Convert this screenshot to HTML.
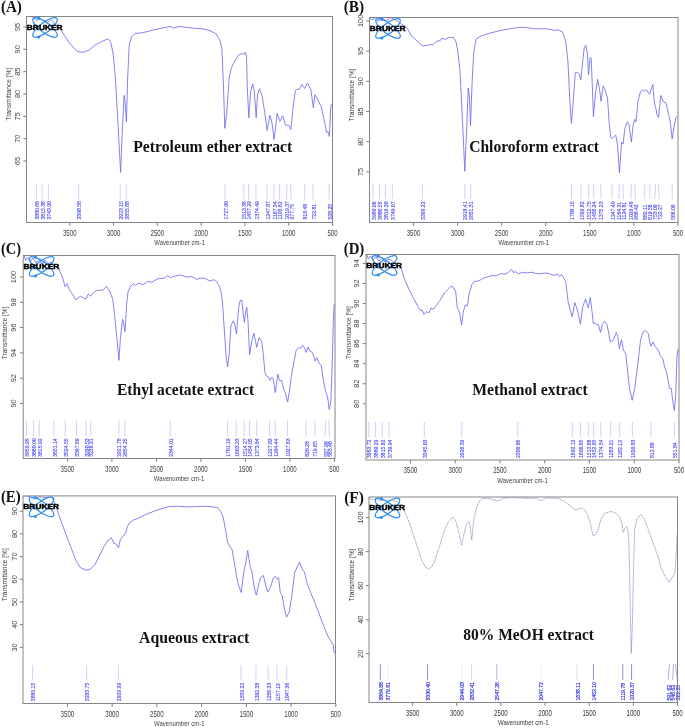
<!DOCTYPE html><html><head><meta charset="utf-8"><style>html,body{margin:0;padding:0;background:#fff;}svg{display:block;will-change:transform;}text{font-family:"Liberation Sans",sans-serif;}.serif{font-family:"Liberation Serif",serif;font-weight:bold;}</style></head><body>
<svg width="685" height="728" viewBox="0 0 685 728">
<rect width="685" height="728" fill="#fff"/>
<g><clipPath id="cp0"><rect x="26.5" y="16.5" width="306" height="206"/></clipPath><line x1="36.42" y1="184" x2="36.42" y2="199.5" stroke="#c0c0fc" stroke-width="0.75"/><text transform="translate(39.02,219.5) rotate(-90)" font-size="5.1" fill="#4848f0" stroke="#4848f0" stroke-width="0.12">3880.68</text><line x1="42.14" y1="184" x2="42.14" y2="199.5" stroke="#c0c0fc" stroke-width="0.75"/><text transform="translate(44.74,219.5) rotate(-90)" font-size="5.1" fill="#4848f0" stroke="#4848f0" stroke-width="0.12">3815.38</text><line x1="48.4" y1="184" x2="48.4" y2="199.5" stroke="#c0c0fc" stroke-width="0.75"/><text transform="translate(51,219.5) rotate(-90)" font-size="5.1" fill="#4848f0" stroke="#4848f0" stroke-width="0.12">3743.90</text><line x1="78.64" y1="184" x2="78.64" y2="199.5" stroke="#c0c0fc" stroke-width="0.75"/><text transform="translate(81.24,219.5) rotate(-90)" font-size="5.1" fill="#4848f0" stroke="#4848f0" stroke-width="0.12">3398.56</text><line x1="120.28" y1="184" x2="120.28" y2="199.5" stroke="#c0c0fc" stroke-width="0.75"/><text transform="translate(122.88,219.5) rotate(-90)" font-size="5.1" fill="#4848f0" stroke="#4848f0" stroke-width="0.12">2923.15</text><line x1="126.19" y1="184" x2="126.19" y2="199.5" stroke="#c0c0fc" stroke-width="0.75"/><text transform="translate(128.79,219.5) rotate(-90)" font-size="5.1" fill="#4848f0" stroke="#4848f0" stroke-width="0.12">2855.68</text><line x1="224.96" y1="184" x2="224.96" y2="199.5" stroke="#c0c0fc" stroke-width="0.75"/><text transform="translate(227.56,219.5) rotate(-90)" font-size="5.1" fill="#4848f0" stroke="#4848f0" stroke-width="0.12">1727.90</text><line x1="243.75" y1="184" x2="243.75" y2="199.5" stroke="#c0c0fc" stroke-width="0.75"/><text transform="translate(246.35,219.5) rotate(-90)" font-size="5.1" fill="#4848f0" stroke="#4848f0" stroke-width="0.12">1513.36</text><line x1="248.66" y1="184" x2="248.66" y2="199.5" stroke="#c0c0fc" stroke-width="0.75"/><text transform="translate(251.26,219.5) rotate(-90)" font-size="5.1" fill="#4848f0" stroke="#4848f0" stroke-width="0.12">1457.29</text><line x1="255.91" y1="184" x2="255.91" y2="199.5" stroke="#c0c0fc" stroke-width="0.75"/><text transform="translate(258.51,219.5) rotate(-90)" font-size="5.1" fill="#4848f0" stroke="#4848f0" stroke-width="0.12">1374.49</text><line x1="267" y1="184" x2="267" y2="199.5" stroke="#c0c0fc" stroke-width="0.75"/><text transform="translate(269.6,219.5) rotate(-90)" font-size="5.1" fill="#4848f0" stroke="#4848f0" stroke-width="0.12">1247.87</text><line x1="274.05" y1="184" x2="274.05" y2="199.5" stroke="#c0c0fc" stroke-width="0.75"/><text transform="translate(276.65,219.5) rotate(-90)" font-size="5.1" fill="#4848f0" stroke="#4848f0" stroke-width="0.12">1167.34</text><line x1="279.62" y1="184" x2="279.62" y2="199.5" stroke="#c0c0fc" stroke-width="0.75"/><text transform="translate(282.22,219.5) rotate(-90)" font-size="5.1" fill="#4848f0" stroke="#4848f0" stroke-width="0.12">1103.82</text><line x1="287.01" y1="184" x2="286.54" y2="199.5" stroke="#c0c0fc" stroke-width="0.75"/><text transform="translate(289.14,219.5) rotate(-90)" font-size="5.1" fill="#4848f0" stroke="#4848f0" stroke-width="0.12">1019.37</text><line x1="290.66" y1="184" x2="291.14" y2="199.5" stroke="#c0c0fc" stroke-width="0.75"/><text transform="translate(293.74,219.5) rotate(-90)" font-size="5.1" fill="#4848f0" stroke="#4848f0" stroke-width="0.12">977.75</text><line x1="304.61" y1="184" x2="304.61" y2="199.5" stroke="#c0c0fc" stroke-width="0.75"/><text transform="translate(307.21,219.5) rotate(-90)" font-size="5.1" fill="#4848f0" stroke="#4848f0" stroke-width="0.12">818.48</text><line x1="312.99" y1="184" x2="312.99" y2="199.5" stroke="#c0c0fc" stroke-width="0.75"/><text transform="translate(315.59,219.5) rotate(-90)" font-size="5.1" fill="#4848f0" stroke="#4848f0" stroke-width="0.12">722.81</text><line x1="329.15" y1="184" x2="329.15" y2="199.5" stroke="#c0c0fc" stroke-width="0.75"/><text transform="translate(331.75,219.5) rotate(-90)" font-size="5.1" fill="#4848f0" stroke="#4848f0" stroke-width="0.12">538.25</text><polyline clip-path="url(#cp0)" points="26.8,16.2 32.4,16.9 36.6,20.4 39.4,18.3 43.6,20.4 47.8,22.5 51.3,19.7 53.4,21.8 55.5,25.3 58.3,27.4 61.1,30.2 64.6,35.8 68.8,42.1 73,47 77.3,51.2 81.5,52.4 85.7,51.5 89.9,49.6 94.1,45.6 99.7,42.6 105.3,40 108.1,38.9 110.5,41.5 112.9,52 115.2,75.4 117.5,115.1 120.6,172.4 122.2,133.8 124.1,95.3 125.2,103.5 126.4,121.7 127.6,80.1 129.2,45 131.5,36.9 135,33.4 142,32.9 153.7,29.9 170,26.4 173.6,28.2 179.4,26.4 193.5,28.2 202.7,28.8 210.4,30.8 216.2,34 220,40.8 221.9,48.5 223.5,86.9 224.8,128.3 226.7,113.8 229.2,77.3 231.5,67.7 234.4,61.9 238.3,55.2 242.1,53.3 244,54.6 245.4,52.3 246.5,56.2 247.3,86.9 248.8,117.7 250.8,90.8 252.7,84 254.2,90.8 256.2,117.7 257.5,94.6 259.4,88.8 262.3,96.5 262.7,99.5 264.8,113.2 267.1,130.4 269.9,115.2 271.7,121.4 274.1,139.3 277.2,113.2 279.9,121.4 282.7,115.7 285.4,124.9 288.8,125.5 290.9,129.7 293,107.7 295.4,90.5 297.1,89.1 299.1,89.6 301.9,84.3 304.6,88.5 307.4,83 310.8,89.1 313.3,107.7 315,94.6 317.7,99.5 321.1,106.3 323.9,118.7 326.6,132.4 328,131.7 329.4,136.5 330.7,107.7 332.1,103.3" fill="none" stroke="#6d6df2" stroke-width="0.85" stroke-linejoin="round"/><rect x="26.5" y="16.5" width="306" height="206" fill="none" stroke="#858585" stroke-width="1"/><line x1="23.3" y1="27" x2="26.5" y2="27" stroke="#7d7d7d" stroke-width="1"/><text transform="translate(20.2,27) rotate(-90)" font-size="7.4" fill="#3e3e3e" text-anchor="middle">95</text><line x1="23.3" y1="49.33" x2="26.5" y2="49.33" stroke="#7d7d7d" stroke-width="1"/><text transform="translate(20.2,49.33) rotate(-90)" font-size="7.4" fill="#3e3e3e" text-anchor="middle">90</text><line x1="23.3" y1="71.67" x2="26.5" y2="71.67" stroke="#7d7d7d" stroke-width="1"/><text transform="translate(20.2,71.67) rotate(-90)" font-size="7.4" fill="#3e3e3e" text-anchor="middle">85</text><line x1="23.3" y1="94" x2="26.5" y2="94" stroke="#7d7d7d" stroke-width="1"/><text transform="translate(20.2,94) rotate(-90)" font-size="7.4" fill="#3e3e3e" text-anchor="middle">80</text><line x1="23.3" y1="116.34" x2="26.5" y2="116.34" stroke="#7d7d7d" stroke-width="1"/><text transform="translate(20.2,116.34) rotate(-90)" font-size="7.4" fill="#3e3e3e" text-anchor="middle">75</text><line x1="23.3" y1="138.68" x2="26.5" y2="138.68" stroke="#7d7d7d" stroke-width="1"/><text transform="translate(20.2,138.68) rotate(-90)" font-size="7.4" fill="#3e3e3e" text-anchor="middle">70</text><line x1="23.3" y1="161.01" x2="26.5" y2="161.01" stroke="#7d7d7d" stroke-width="1"/><text transform="translate(20.2,161.01) rotate(-90)" font-size="7.4" fill="#3e3e3e" text-anchor="middle">65</text><text transform="translate(10.6,94.2) rotate(-90)" font-size="6.6" fill="#3e3e3e" text-anchor="middle">Transmittance [%]</text><line x1="69.76" y1="222.5" x2="69.76" y2="225.8" stroke="#7d7d7d" stroke-width="1"/><text x="69.76" y="235.9" font-size="8.3" fill="#3e3e3e" text-anchor="middle" textLength="13.6" lengthAdjust="spacingAndGlyphs">3500</text><line x1="113.55" y1="222.5" x2="113.55" y2="225.8" stroke="#7d7d7d" stroke-width="1"/><text x="113.55" y="235.9" font-size="8.3" fill="#3e3e3e" text-anchor="middle" textLength="13.6" lengthAdjust="spacingAndGlyphs">3000</text><line x1="157.34" y1="222.5" x2="157.34" y2="225.8" stroke="#7d7d7d" stroke-width="1"/><text x="157.34" y="235.9" font-size="8.3" fill="#3e3e3e" text-anchor="middle" textLength="13.6" lengthAdjust="spacingAndGlyphs">2500</text><line x1="201.13" y1="222.5" x2="201.13" y2="225.8" stroke="#7d7d7d" stroke-width="1"/><text x="201.13" y="235.9" font-size="8.3" fill="#3e3e3e" text-anchor="middle" textLength="13.6" lengthAdjust="spacingAndGlyphs">2000</text><line x1="244.92" y1="222.5" x2="244.92" y2="225.8" stroke="#7d7d7d" stroke-width="1"/><text x="244.92" y="235.9" font-size="8.3" fill="#3e3e3e" text-anchor="middle" textLength="13.6" lengthAdjust="spacingAndGlyphs">1500</text><line x1="288.71" y1="222.5" x2="288.71" y2="225.8" stroke="#7d7d7d" stroke-width="1"/><text x="288.71" y="235.9" font-size="8.3" fill="#3e3e3e" text-anchor="middle" textLength="13.6" lengthAdjust="spacingAndGlyphs">1000</text><line x1="332.5" y1="222.5" x2="332.5" y2="225.8" stroke="#7d7d7d" stroke-width="1"/><text x="332.5" y="235.9" font-size="8.3" fill="#3e3e3e" text-anchor="middle" textLength="10.2" lengthAdjust="spacingAndGlyphs">500</text><text x="179.5" y="245.4" font-size="7.4" fill="#3e3e3e" text-anchor="middle" textLength="50.5" lengthAdjust="spacingAndGlyphs">Wavenumber cm-1</text><g fill="none" stroke="#2b8cf0" stroke-width="1.2"><ellipse cx="45" cy="27.45" rx="14.9" ry="5.0" transform="rotate(37 45 27.45)"/><ellipse cx="45" cy="27.45" rx="14.9" ry="5.0" transform="rotate(-37 45 27.45)"/></g><circle cx="38.8" cy="18.15" r="1.55" fill="#2b8cf0"/><circle cx="38.8" cy="37.05" r="1.55" fill="#2b8cf0"/><text x="26.8" y="29.7" font-size="6.5" font-weight="bold" fill="#000" stroke="#000" stroke-width="0.4" textLength="35.8" lengthAdjust="spacingAndGlyphs">BRUKER</text><text class="serif" x="0.9" y="11.7" font-size="16" fill="#111" textLength="21" lengthAdjust="spacingAndGlyphs">(A)</text><text class="serif" x="133.2" y="152.4" font-size="15.8" fill="#111" textLength="159.1" lengthAdjust="spacingAndGlyphs">Petroleum ether extract</text></g>
<g><clipPath id="cp1"><rect x="369.5" y="17.5" width="308.5" height="205"/></clipPath><line x1="372.93" y1="184" x2="372.93" y2="199" stroke="#c0c0fc" stroke-width="0.75"/><text transform="translate(375.53,219.9) rotate(-90)" font-size="5.1" fill="#4848f0" stroke="#4848f0" stroke-width="0.12">3960.06</text><line x1="379.41" y1="184" x2="379.41" y2="199" stroke="#c0c0fc" stroke-width="0.75"/><text transform="translate(382.01,219.9) rotate(-90)" font-size="5.1" fill="#4848f0" stroke="#4848f0" stroke-width="0.12">3886.55</text><line x1="385.34" y1="184" x2="385.34" y2="199" stroke="#c0c0fc" stroke-width="0.75"/><text transform="translate(387.94,219.9) rotate(-90)" font-size="5.1" fill="#4848f0" stroke="#4848f0" stroke-width="0.12">3819.30</text><line x1="392.32" y1="184" x2="392.32" y2="199" stroke="#c0c0fc" stroke-width="0.75"/><text transform="translate(394.92,219.9) rotate(-90)" font-size="5.1" fill="#4848f0" stroke="#4848f0" stroke-width="0.12">3740.07</text><line x1="422.38" y1="184" x2="422.38" y2="199" stroke="#c0c0fc" stroke-width="0.75"/><text transform="translate(424.98,219.9) rotate(-90)" font-size="5.1" fill="#4848f0" stroke="#4848f0" stroke-width="0.12">3399.22</text><line x1="464.77" y1="184" x2="464.77" y2="199" stroke="#c0c0fc" stroke-width="0.75"/><text transform="translate(467.37,219.9) rotate(-90)" font-size="5.1" fill="#4848f0" stroke="#4848f0" stroke-width="0.12">2918.41</text><line x1="470.68" y1="184" x2="470.68" y2="199" stroke="#c0c0fc" stroke-width="0.75"/><text transform="translate(473.28,219.9) rotate(-90)" font-size="5.1" fill="#4848f0" stroke="#4848f0" stroke-width="0.12">2851.31</text><line x1="571.48" y1="184" x2="571.48" y2="199" stroke="#c0c0fc" stroke-width="0.75"/><text transform="translate(574.08,219.9) rotate(-90)" font-size="5.1" fill="#4848f0" stroke="#4848f0" stroke-width="0.12">1708.15</text><line x1="581.03" y1="184" x2="581.03" y2="199" stroke="#c0c0fc" stroke-width="0.75"/><text transform="translate(583.63,219.9) rotate(-90)" font-size="5.1" fill="#4848f0" stroke="#4848f0" stroke-width="0.12">1599.82</text><line x1="588.71" y1="184" x2="588.71" y2="199" stroke="#c0c0fc" stroke-width="0.75"/><text transform="translate(591.31,219.9) rotate(-90)" font-size="5.1" fill="#4848f0" stroke="#4848f0" stroke-width="0.12">1512.75</text><line x1="593.69" y1="184" x2="593.69" y2="199" stroke="#c0c0fc" stroke-width="0.75"/><text transform="translate(596.29,219.9) rotate(-90)" font-size="5.1" fill="#4848f0" stroke="#4848f0" stroke-width="0.12">1456.24</text><line x1="600.83" y1="184" x2="600.83" y2="199" stroke="#c0c0fc" stroke-width="0.75"/><text transform="translate(603.43,219.9) rotate(-90)" font-size="5.1" fill="#4848f0" stroke="#4848f0" stroke-width="0.12">1375.23</text><line x1="612.1" y1="184" x2="612.1" y2="199" stroke="#c0c0fc" stroke-width="0.75"/><text transform="translate(614.7,219.9) rotate(-90)" font-size="5.1" fill="#4848f0" stroke="#4848f0" stroke-width="0.12">1247.40</text><line x1="619.43" y1="184" x2="618.87" y2="199" stroke="#c0c0fc" stroke-width="0.75"/><text transform="translate(621.47,219.9) rotate(-90)" font-size="5.1" fill="#4848f0" stroke="#4848f0" stroke-width="0.12">1164.31</text><line x1="622.91" y1="184" x2="623.47" y2="199" stroke="#c0c0fc" stroke-width="0.75"/><text transform="translate(626.07,219.9) rotate(-90)" font-size="5.1" fill="#4848f0" stroke="#4848f0" stroke-width="0.12">1124.81</text><line x1="631.32" y1="184" x2="630.83" y2="199" stroke="#c0c0fc" stroke-width="0.75"/><text transform="translate(633.43,219.9) rotate(-90)" font-size="5.1" fill="#4848f0" stroke="#4848f0" stroke-width="0.12">1029.46</text><line x1="634.94" y1="184" x2="635.43" y2="199" stroke="#c0c0fc" stroke-width="0.75"/><text transform="translate(638.03,219.9) rotate(-90)" font-size="5.1" fill="#4848f0" stroke="#4848f0" stroke-width="0.12">988.42</text><line x1="644.31" y1="184" x2="644.31" y2="199" stroke="#c0c0fc" stroke-width="0.75"/><text transform="translate(646.91,219.9) rotate(-90)" font-size="5.1" fill="#4848f0" stroke="#4848f0" stroke-width="0.12">882.11</text><line x1="649.82" y1="184" x2="649.82" y2="199" stroke="#c0c0fc" stroke-width="0.75"/><text transform="translate(652.42,219.9) rotate(-90)" font-size="5.1" fill="#4848f0" stroke="#4848f0" stroke-width="0.12">819.56</text><line x1="655.69" y1="184" x2="654.74" y2="199" stroke="#c0c0fc" stroke-width="0.75"/><text transform="translate(657.34,219.9) rotate(-90)" font-size="5.1" fill="#4848f0" stroke="#4848f0" stroke-width="0.12">753.09</text><line x1="658.4" y1="184" x2="659.34" y2="199" stroke="#c0c0fc" stroke-width="0.75"/><text transform="translate(661.94,219.9) rotate(-90)" font-size="5.1" fill="#4848f0" stroke="#4848f0" stroke-width="0.12">722.27</text><line x1="672.17" y1="184" x2="672.17" y2="199" stroke="#c0c0fc" stroke-width="0.75"/><text transform="translate(674.77,219.9) rotate(-90)" font-size="5.1" fill="#4848f0" stroke="#4848f0" stroke-width="0.12">566.09</text><polyline clip-path="url(#cp1)" points="369.6,17.6 371.8,19.8 374.8,18.4 377.7,21.3 382,18.4 386.4,20.6 390.1,17.6 395.2,19.8 398.8,22 401.8,24.2 406.1,27.1 408.3,30.1 411.3,35.9 414.2,38.1 418.6,42.5 422.9,46.1 425.9,45.4 430.2,44.7 433.2,44.7 436.1,41.7 440.5,40.3 441.9,38.1 444.8,39.5 449.2,37.4 453.6,37.4 455.8,41 457.7,50.5 460,71 462.3,116.6 464.8,171.3 466.9,123.4 468.2,88.1 469.4,96.1 470.5,125.7 472.1,82.4 473.7,52.8 476,39.1 480.1,36.3 489.2,33.4 500.6,30.4 514.3,28.1 523.4,27.2 534.8,28.8 546.2,28.8 555.1,30.4 558.2,29.9 562.6,32.1 565.9,42 568.1,64 569.6,96.9 571.4,123.3 573.1,103.5 575.3,72.7 577.5,72.3 579.1,73.8 580.8,79.8 582.4,64 584.1,48.6 585.7,45.3 587.4,53 588.5,75 590.1,57.4 591.2,58.5 592.3,85.9 593.4,116.7 595.5,92.5 597.7,79.3 600,92.5 601,101.3 603.2,85.9 605,89.7 607.5,97.9 609.1,122.6 610.8,137.5 612.4,138.3 615.7,135 617.4,144.1 619.5,172.9 621.5,142.4 623.1,144.1 624.8,129.2 627.3,121.8 628.9,124.3 631.4,142.1 633,125.9 634.7,119.3 636,121.8 638,101.2 640.4,92.1 642.6,89.7 644.6,91.3 646.2,89.7 649.5,94.3 652.8,84.4 654.4,102.9 656.1,109.4 656.9,114.4 658.6,117.7 660.7,95.4 663.5,102 666,102.9 668.5,114.4 670.1,121 672.2,139.1 674.2,125.9 675.9,117.7 677.5,116" fill="none" stroke="#6d6df2" stroke-width="0.85" stroke-linejoin="round"/><rect x="369.5" y="17.5" width="308.5" height="205" fill="none" stroke="#858585" stroke-width="1"/><line x1="366.3" y1="20.9" x2="369.5" y2="20.9" stroke="#7d7d7d" stroke-width="1"/><text transform="translate(362.9,20.9) rotate(-90)" font-size="7.4" fill="#3e3e3e" text-anchor="middle">100</text><line x1="366.3" y1="51.1" x2="369.5" y2="51.1" stroke="#7d7d7d" stroke-width="1"/><text transform="translate(362.9,51.1) rotate(-90)" font-size="7.4" fill="#3e3e3e" text-anchor="middle">95</text><line x1="366.3" y1="81.3" x2="369.5" y2="81.3" stroke="#7d7d7d" stroke-width="1"/><text transform="translate(362.9,81.3) rotate(-90)" font-size="7.4" fill="#3e3e3e" text-anchor="middle">90</text><line x1="366.3" y1="111.5" x2="369.5" y2="111.5" stroke="#7d7d7d" stroke-width="1"/><text transform="translate(362.9,111.5) rotate(-90)" font-size="7.4" fill="#3e3e3e" text-anchor="middle">85</text><line x1="366.3" y1="141.7" x2="369.5" y2="141.7" stroke="#7d7d7d" stroke-width="1"/><text transform="translate(362.9,141.7) rotate(-90)" font-size="7.4" fill="#3e3e3e" text-anchor="middle">80</text><line x1="366.3" y1="171.9" x2="369.5" y2="171.9" stroke="#7d7d7d" stroke-width="1"/><text transform="translate(362.9,171.9) rotate(-90)" font-size="7.4" fill="#3e3e3e" text-anchor="middle">75</text><text transform="translate(354.4,94.8) rotate(-90)" font-size="6.6" fill="#3e3e3e" text-anchor="middle">Transmittance [%]</text><line x1="413.49" y1="222.5" x2="413.49" y2="225.8" stroke="#7d7d7d" stroke-width="1"/><text x="413.49" y="235.9" font-size="8.3" fill="#3e3e3e" text-anchor="middle" textLength="13.6" lengthAdjust="spacingAndGlyphs">3500</text><line x1="457.58" y1="222.5" x2="457.58" y2="225.8" stroke="#7d7d7d" stroke-width="1"/><text x="457.58" y="235.9" font-size="8.3" fill="#3e3e3e" text-anchor="middle" textLength="13.6" lengthAdjust="spacingAndGlyphs">3000</text><line x1="501.66" y1="222.5" x2="501.66" y2="225.8" stroke="#7d7d7d" stroke-width="1"/><text x="501.66" y="235.9" font-size="8.3" fill="#3e3e3e" text-anchor="middle" textLength="13.6" lengthAdjust="spacingAndGlyphs">2500</text><line x1="545.75" y1="222.5" x2="545.75" y2="225.8" stroke="#7d7d7d" stroke-width="1"/><text x="545.75" y="235.9" font-size="8.3" fill="#3e3e3e" text-anchor="middle" textLength="13.6" lengthAdjust="spacingAndGlyphs">2000</text><line x1="589.83" y1="222.5" x2="589.83" y2="225.8" stroke="#7d7d7d" stroke-width="1"/><text x="589.83" y="235.9" font-size="8.3" fill="#3e3e3e" text-anchor="middle" textLength="13.6" lengthAdjust="spacingAndGlyphs">1500</text><line x1="633.91" y1="222.5" x2="633.91" y2="225.8" stroke="#7d7d7d" stroke-width="1"/><text x="633.91" y="235.9" font-size="8.3" fill="#3e3e3e" text-anchor="middle" textLength="13.6" lengthAdjust="spacingAndGlyphs">1000</text><line x1="678" y1="222.5" x2="678" y2="225.8" stroke="#7d7d7d" stroke-width="1"/><text x="678" y="235.9" font-size="8.3" fill="#3e3e3e" text-anchor="middle" textLength="10.2" lengthAdjust="spacingAndGlyphs">500</text><text x="523.75" y="245.4" font-size="7.4" fill="#3e3e3e" text-anchor="middle" textLength="50.5" lengthAdjust="spacingAndGlyphs">Wavenumber cm-1</text><g fill="none" stroke="#2b8cf0" stroke-width="1.2"><ellipse cx="388" cy="28.45" rx="14.9" ry="5.0" transform="rotate(37 388 28.45)"/><ellipse cx="388" cy="28.45" rx="14.9" ry="5.0" transform="rotate(-37 388 28.45)"/></g><circle cx="381.8" cy="19.15" r="1.55" fill="#2b8cf0"/><circle cx="381.8" cy="38.05" r="1.55" fill="#2b8cf0"/><text x="369.8" y="30.7" font-size="6.5" font-weight="bold" fill="#000" stroke="#000" stroke-width="0.4" textLength="35.8" lengthAdjust="spacingAndGlyphs">BRUKER</text><text class="serif" x="343.7" y="11.5" font-size="16" fill="#111" textLength="20.4" lengthAdjust="spacingAndGlyphs">(B)</text><text class="serif" x="469.2" y="151.9" font-size="15.8" fill="#111" textLength="129.8" lengthAdjust="spacingAndGlyphs">Chloroform extract</text></g>
<g><clipPath id="cp2"><rect x="23.2" y="255.5" width="311.8" height="203"/></clipPath><line x1="26.46" y1="420.5" x2="26.46" y2="436.2" stroke="#c0c0fc" stroke-width="0.75"/><text transform="translate(29.06,456.8) rotate(-90)" font-size="5.1" fill="#4848f0" stroke="#4848f0" stroke-width="0.12">3959.95</text><line x1="33.58" y1="420.5" x2="33.58" y2="436.2" stroke="#c0c0fc" stroke-width="0.75"/><text transform="translate(36.18,456.8) rotate(-90)" font-size="5.1" fill="#4848f0" stroke="#4848f0" stroke-width="0.12">3880.00</text><line x1="39.28" y1="420.5" x2="39.28" y2="436.2" stroke="#c0c0fc" stroke-width="0.75"/><text transform="translate(41.88,456.8) rotate(-90)" font-size="5.1" fill="#4848f0" stroke="#4848f0" stroke-width="0.12">3815.92</text><line x1="53.95" y1="420.5" x2="53.95" y2="436.2" stroke="#c0c0fc" stroke-width="0.75"/><text transform="translate(56.55,456.8) rotate(-90)" font-size="5.1" fill="#4848f0" stroke="#4848f0" stroke-width="0.12">3651.14</text><line x1="65.22" y1="420.5" x2="65.22" y2="436.2" stroke="#c0c0fc" stroke-width="0.75"/><text transform="translate(67.82,456.8) rotate(-90)" font-size="5.1" fill="#4848f0" stroke="#4848f0" stroke-width="0.12">3524.55</text><line x1="76.51" y1="420.5" x2="76.51" y2="436.2" stroke="#c0c0fc" stroke-width="0.75"/><text transform="translate(79.11,456.8) rotate(-90)" font-size="5.1" fill="#4848f0" stroke="#4848f0" stroke-width="0.12">3397.69</text><line x1="86.04" y1="420.5" x2="86.04" y2="436.2" stroke="#c0c0fc" stroke-width="0.75"/><text transform="translate(88.64,456.8) rotate(-90)" font-size="5.1" fill="#4848f0" stroke="#4848f0" stroke-width="0.12">3290.53</text><line x1="90.82" y1="420.5" x2="90.82" y2="436.2" stroke="#c0c0fc" stroke-width="0.75"/><text transform="translate(93.42,456.8) rotate(-90)" font-size="5.1" fill="#4848f0" stroke="#4848f0" stroke-width="0.12">3236.91</text><line x1="118.86" y1="420.5" x2="118.86" y2="436.2" stroke="#c0c0fc" stroke-width="0.75"/><text transform="translate(121.46,456.8) rotate(-90)" font-size="5.1" fill="#4848f0" stroke="#4848f0" stroke-width="0.12">2921.78</text><line x1="124.87" y1="420.5" x2="124.87" y2="436.2" stroke="#c0c0fc" stroke-width="0.75"/><text transform="translate(127.47,456.8) rotate(-90)" font-size="5.1" fill="#4848f0" stroke="#4848f0" stroke-width="0.12">2854.25</text><line x1="170.28" y1="420.5" x2="170.28" y2="436.2" stroke="#c0c0fc" stroke-width="0.75"/><text transform="translate(172.88,456.8) rotate(-90)" font-size="5.1" fill="#4848f0" stroke="#4848f0" stroke-width="0.12">2344.01</text><line x1="227.49" y1="420.5" x2="227.49" y2="436.2" stroke="#c0c0fc" stroke-width="0.75"/><text transform="translate(230.09,456.8) rotate(-90)" font-size="5.1" fill="#4848f0" stroke="#4848f0" stroke-width="0.12">1701.19</text><line x1="236.21" y1="420.5" x2="236.21" y2="436.2" stroke="#c0c0fc" stroke-width="0.75"/><text transform="translate(238.81,456.8) rotate(-90)" font-size="5.1" fill="#4848f0" stroke="#4848f0" stroke-width="0.12">1603.23</text><line x1="244.13" y1="420.5" x2="244.13" y2="436.2" stroke="#c0c0fc" stroke-width="0.75"/><text transform="translate(246.73,456.8) rotate(-90)" font-size="5.1" fill="#4848f0" stroke="#4848f0" stroke-width="0.12">1514.27</text><line x1="249.49" y1="420.5" x2="249.49" y2="436.2" stroke="#c0c0fc" stroke-width="0.75"/><text transform="translate(252.09,456.8) rotate(-90)" font-size="5.1" fill="#4848f0" stroke="#4848f0" stroke-width="0.12">1454.05</text><line x1="256.63" y1="420.5" x2="256.63" y2="436.2" stroke="#c0c0fc" stroke-width="0.75"/><text transform="translate(259.23,456.8) rotate(-90)" font-size="5.1" fill="#4848f0" stroke="#4848f0" stroke-width="0.12">1373.84</text><line x1="269.62" y1="420.5" x2="269.62" y2="436.2" stroke="#c0c0fc" stroke-width="0.75"/><text transform="translate(272.22,456.8) rotate(-90)" font-size="5.1" fill="#4848f0" stroke="#4848f0" stroke-width="0.12">1227.83</text><line x1="275.26" y1="420.5" x2="275.26" y2="436.2" stroke="#c0c0fc" stroke-width="0.75"/><text transform="translate(277.86,456.8) rotate(-90)" font-size="5.1" fill="#4848f0" stroke="#4848f0" stroke-width="0.12">1164.44</text><line x1="287.44" y1="420.5" x2="287.44" y2="436.2" stroke="#c0c0fc" stroke-width="0.75"/><text transform="translate(290.04,456.8) rotate(-90)" font-size="5.1" fill="#4848f0" stroke="#4848f0" stroke-width="0.12">1027.63</text><line x1="305.9" y1="420.5" x2="305.9" y2="436.2" stroke="#c0c0fc" stroke-width="0.75"/><text transform="translate(308.5,456.8) rotate(-90)" font-size="5.1" fill="#4848f0" stroke="#4848f0" stroke-width="0.12">820.28</text><line x1="314.85" y1="420.5" x2="314.85" y2="436.2" stroke="#c0c0fc" stroke-width="0.75"/><text transform="translate(317.45,456.8) rotate(-90)" font-size="5.1" fill="#4848f0" stroke="#4848f0" stroke-width="0.12">719.65</text><line x1="325.68" y1="420.5" x2="324.92" y2="436.2" stroke="#c0c0fc" stroke-width="0.75"/><text transform="translate(327.52,456.8) rotate(-90)" font-size="5.1" fill="#4848f0" stroke="#4848f0" stroke-width="0.12">597.96</text><line x1="328.75" y1="420.5" x2="329.52" y2="436.2" stroke="#c0c0fc" stroke-width="0.75"/><text transform="translate(332.12,456.8) rotate(-90)" font-size="5.1" fill="#4848f0" stroke="#4848f0" stroke-width="0.12">563.46</text><polyline clip-path="url(#cp2)" points="24.1,255.3 25.5,260.4 27.7,257.5 30,262 33,258 36,263 39,259 42,264 45,260 48,264 51,262 54,266 58.4,267 60.6,273.6 62.8,278 65,286.7 67.2,283.8 69.3,289.6 72.3,294 75.9,299.9 80.3,296.2 83.2,297.7 86.1,299.1 88.3,294 90.5,296.2 93.4,292.6 97.1,290.4 99.1,290.4 103.2,289.9 106.5,286.3 109.8,291.2 112.8,299.5 114.8,317.6 117.2,340.7 118.9,360.4 120.5,337.4 122.5,319.3 123.8,324.2 125,331.6 126.6,304.4 128,292.1 130.4,286.3 133.7,283.8 135.4,285.5 138.7,283 142.8,284.7 147.7,281.4 151.8,282.2 157.6,278.9 164.2,278.1 167.5,275.6 170.8,277.7 173.3,276.4 179.8,275.1 184,276.1 187.3,277.2 190,276.4 193.3,277.2 196.6,279.4 199.9,278.1 204.8,278.4 209.8,281 213.9,279.7 217.2,282.2 219.7,287.1 221.6,294.5 223,309.4 224.6,334.1 226.2,357.1 227.6,367 229.2,353.8 230.9,325.8 233.2,320.9 234.8,324.2 236.5,334.1 238.6,307.7 240.2,300.3 241.9,300.3 243,312.7 244.4,322.5 245.7,311 246.8,307.4 248,320.9 249.6,354.7 251.8,340.7 253.9,333.3 255.4,340.7 256.7,347.3 259.2,337.4 261.7,341.5 263.3,354.4 264.9,372.5 266.6,376.1 268.2,376.6 269.9,380.4 271.9,377.1 273.2,379.1 275.3,392.6 277.8,374.1 279.4,380.7 281.4,380.4 283.9,389.8 285.5,393.6 287.7,402.1 289.7,389 291.3,376.6 293.8,362.6 296.2,350.2 298.7,347.8 300.9,347.8 302.5,345.3 304.5,347.8 306.1,352.4 308.1,347 309.8,351.1 312.4,352.4 315.2,361 316.8,357.7 319.3,363.4 321.3,365.9 323.4,380.7 325.1,389 326.7,394.7 327.9,398.8 329.2,409.6 330.8,402.1 332.2,365.9 333.3,321.4 334.1,304.1" fill="none" stroke="#6d6df2" stroke-width="0.85" stroke-linejoin="round"/><rect x="23.2" y="255.5" width="311.8" height="203" fill="none" stroke="#858585" stroke-width="1"/><line x1="20" y1="277" x2="23.2" y2="277" stroke="#7d7d7d" stroke-width="1"/><text transform="translate(16.2,277) rotate(-90)" font-size="7.4" fill="#3e3e3e" text-anchor="middle">100</text><line x1="20" y1="302.3" x2="23.2" y2="302.3" stroke="#7d7d7d" stroke-width="1"/><text transform="translate(16.2,302.3) rotate(-90)" font-size="7.4" fill="#3e3e3e" text-anchor="middle">98</text><line x1="20" y1="327.6" x2="23.2" y2="327.6" stroke="#7d7d7d" stroke-width="1"/><text transform="translate(16.2,327.6) rotate(-90)" font-size="7.4" fill="#3e3e3e" text-anchor="middle">96</text><line x1="20" y1="352.9" x2="23.2" y2="352.9" stroke="#7d7d7d" stroke-width="1"/><text transform="translate(16.2,352.9) rotate(-90)" font-size="7.4" fill="#3e3e3e" text-anchor="middle">94</text><line x1="20" y1="378.2" x2="23.2" y2="378.2" stroke="#7d7d7d" stroke-width="1"/><text transform="translate(16.2,378.2) rotate(-90)" font-size="7.4" fill="#3e3e3e" text-anchor="middle">92</text><line x1="20" y1="403.5" x2="23.2" y2="403.5" stroke="#7d7d7d" stroke-width="1"/><text transform="translate(16.2,403.5) rotate(-90)" font-size="7.4" fill="#3e3e3e" text-anchor="middle">90</text><text transform="translate(7.4,332.9) rotate(-90)" font-size="6.6" fill="#3e3e3e" text-anchor="middle">Transmittance [%]</text><line x1="67.4" y1="458.5" x2="67.4" y2="461.8" stroke="#7d7d7d" stroke-width="1"/><text x="67.4" y="471.9" font-size="8.3" fill="#3e3e3e" text-anchor="middle" textLength="13.6" lengthAdjust="spacingAndGlyphs">3500</text><line x1="111.9" y1="458.5" x2="111.9" y2="461.8" stroke="#7d7d7d" stroke-width="1"/><text x="111.9" y="471.9" font-size="8.3" fill="#3e3e3e" text-anchor="middle" textLength="13.6" lengthAdjust="spacingAndGlyphs">3000</text><line x1="156.4" y1="458.5" x2="156.4" y2="461.8" stroke="#7d7d7d" stroke-width="1"/><text x="156.4" y="471.9" font-size="8.3" fill="#3e3e3e" text-anchor="middle" textLength="13.6" lengthAdjust="spacingAndGlyphs">2500</text><line x1="200.9" y1="458.5" x2="200.9" y2="461.8" stroke="#7d7d7d" stroke-width="1"/><text x="200.9" y="471.9" font-size="8.3" fill="#3e3e3e" text-anchor="middle" textLength="13.6" lengthAdjust="spacingAndGlyphs">2000</text><line x1="245.4" y1="458.5" x2="245.4" y2="461.8" stroke="#7d7d7d" stroke-width="1"/><text x="245.4" y="471.9" font-size="8.3" fill="#3e3e3e" text-anchor="middle" textLength="13.6" lengthAdjust="spacingAndGlyphs">1500</text><line x1="289.9" y1="458.5" x2="289.9" y2="461.8" stroke="#7d7d7d" stroke-width="1"/><text x="289.9" y="471.9" font-size="8.3" fill="#3e3e3e" text-anchor="middle" textLength="13.6" lengthAdjust="spacingAndGlyphs">1000</text><line x1="334.4" y1="458.5" x2="334.4" y2="461.8" stroke="#7d7d7d" stroke-width="1"/><text x="334.4" y="471.9" font-size="8.3" fill="#3e3e3e" text-anchor="middle" textLength="10.2" lengthAdjust="spacingAndGlyphs">500</text><text x="179.1" y="481.4" font-size="7.4" fill="#3e3e3e" text-anchor="middle" textLength="50.5" lengthAdjust="spacingAndGlyphs">Wavenumber cm-1</text><g fill="none" stroke="#2b8cf0" stroke-width="1.2"><ellipse cx="41.7" cy="266.45" rx="14.9" ry="5.0" transform="rotate(37 41.7 266.45)"/><ellipse cx="41.7" cy="266.45" rx="14.9" ry="5.0" transform="rotate(-37 41.7 266.45)"/></g><circle cx="35.5" cy="257.15" r="1.55" fill="#2b8cf0"/><circle cx="35.5" cy="276.05" r="1.55" fill="#2b8cf0"/><text x="23.5" y="268.7" font-size="6.5" font-weight="bold" fill="#000" stroke="#000" stroke-width="0.4" textLength="35.8" lengthAdjust="spacingAndGlyphs">BRUKER</text><text class="serif" x="0.9" y="254.1" font-size="16" fill="#111" textLength="20.1" lengthAdjust="spacingAndGlyphs">(C)</text><text class="serif" x="117" y="395.2" font-size="15.8" fill="#111" textLength="137.1" lengthAdjust="spacingAndGlyphs">Ethyl acetate extract</text></g>
<g><clipPath id="cp3"><rect x="366" y="254.5" width="313" height="205.5"/></clipPath><line x1="368.89" y1="422" x2="368.89" y2="437.4" stroke="#c0c0fc" stroke-width="0.75"/><text transform="translate(371.49,458) rotate(-90)" font-size="5.1" fill="#4848f0" stroke="#4848f0" stroke-width="0.12">3963.72</text><line x1="375.56" y1="422" x2="375.56" y2="437.4" stroke="#c0c0fc" stroke-width="0.75"/><text transform="translate(378.16,458) rotate(-90)" font-size="5.1" fill="#4848f0" stroke="#4848f0" stroke-width="0.12">3889.29</text><line x1="382.13" y1="422" x2="382.13" y2="437.4" stroke="#c0c0fc" stroke-width="0.75"/><text transform="translate(384.73,458) rotate(-90)" font-size="5.1" fill="#4848f0" stroke="#4848f0" stroke-width="0.12">3815.82</text><line x1="388.93" y1="422" x2="388.93" y2="437.4" stroke="#c0c0fc" stroke-width="0.75"/><text transform="translate(391.53,458) rotate(-90)" font-size="5.1" fill="#4848f0" stroke="#4848f0" stroke-width="0.12">3739.94</text><line x1="424.28" y1="422" x2="424.28" y2="437.4" stroke="#c0c0fc" stroke-width="0.75"/><text transform="translate(426.88,458) rotate(-90)" font-size="5.1" fill="#4848f0" stroke="#4848f0" stroke-width="0.12">3345.03</text><line x1="461.77" y1="422" x2="461.77" y2="437.4" stroke="#c0c0fc" stroke-width="0.75"/><text transform="translate(464.37,458) rotate(-90)" font-size="5.1" fill="#4848f0" stroke="#4848f0" stroke-width="0.12">2926.39</text><line x1="517.77" y1="422" x2="517.77" y2="437.4" stroke="#c0c0fc" stroke-width="0.75"/><text transform="translate(520.37,458) rotate(-90)" font-size="5.1" fill="#4848f0" stroke="#4848f0" stroke-width="0.12">2300.86</text><line x1="572.27" y1="422" x2="572.27" y2="437.4" stroke="#c0c0fc" stroke-width="0.75"/><text transform="translate(574.87,458) rotate(-90)" font-size="5.1" fill="#4848f0" stroke="#4848f0" stroke-width="0.12">1692.12</text><line x1="580.46" y1="422" x2="580.46" y2="437.4" stroke="#c0c0fc" stroke-width="0.75"/><text transform="translate(583.06,458) rotate(-90)" font-size="5.1" fill="#4848f0" stroke="#4848f0" stroke-width="0.12">1600.65</text><line x1="588.25" y1="422" x2="588.25" y2="437.4" stroke="#c0c0fc" stroke-width="0.75"/><text transform="translate(590.85,458) rotate(-90)" font-size="5.1" fill="#4848f0" stroke="#4848f0" stroke-width="0.12">1513.68</text><line x1="593.68" y1="422" x2="593.68" y2="437.4" stroke="#c0c0fc" stroke-width="0.75"/><text transform="translate(596.28,458) rotate(-90)" font-size="5.1" fill="#4848f0" stroke="#4848f0" stroke-width="0.12">1452.95</text><line x1="600.7" y1="422" x2="600.7" y2="437.4" stroke="#c0c0fc" stroke-width="0.75"/><text transform="translate(603.3,458) rotate(-90)" font-size="5.1" fill="#4848f0" stroke="#4848f0" stroke-width="0.12">1374.54</text><line x1="610.67" y1="422" x2="610.67" y2="437.4" stroke="#c0c0fc" stroke-width="0.75"/><text transform="translate(613.27,458) rotate(-90)" font-size="5.1" fill="#4848f0" stroke="#4848f0" stroke-width="0.12">1263.21</text><line x1="619.72" y1="422" x2="619.72" y2="437.4" stroke="#c0c0fc" stroke-width="0.75"/><text transform="translate(622.32,458) rotate(-90)" font-size="5.1" fill="#4848f0" stroke="#4848f0" stroke-width="0.12">1162.12</text><line x1="632.37" y1="422" x2="632.37" y2="437.4" stroke="#c0c0fc" stroke-width="0.75"/><text transform="translate(634.97,458) rotate(-90)" font-size="5.1" fill="#4848f0" stroke="#4848f0" stroke-width="0.12">1020.83</text><line x1="651.01" y1="422" x2="651.01" y2="437.4" stroke="#c0c0fc" stroke-width="0.75"/><text transform="translate(653.61,458) rotate(-90)" font-size="5.1" fill="#4848f0" stroke="#4848f0" stroke-width="0.12">812.68</text><line x1="674.36" y1="422" x2="674.36" y2="437.4" stroke="#c0c0fc" stroke-width="0.75"/><text transform="translate(676.96,458) rotate(-90)" font-size="5.1" fill="#4848f0" stroke="#4848f0" stroke-width="0.12">551.84</text><polyline clip-path="url(#cp3)" points="366.8,254.6 368.3,259 370.5,256 373,260 376,257 379,261 382,258 385,262 388,259 391.6,260.4 396.7,265.5 400.4,268.5 401.9,269.9 403.3,275.8 405.5,281.6 409.2,289.6 413.5,298.4 417.9,306.4 420.8,310.8 422.3,310.1 424,314.5 426.7,311.5 428.9,313 431.1,307.9 433.2,309.3 436.2,305.7 439.4,301.4 444.6,292.7 448.1,289.2 451.1,286.2 453.4,287.4 455.7,291.8 457.4,308.4 459.5,311.9 461.6,325.1 463.4,311 465.6,304.9 467.4,305.8 469.2,293.5 471.8,284.8 474.4,281.3 477,281.3 480.5,279.9 484,277.8 487.5,276.9 491,275.7 496.3,275.7 501.5,273.4 505.1,274.3 508.6,272.2 511.5,269.4 513.5,272.5 515.6,271.6 518.2,273.9 522.6,272.2 526.9,272.9 531.3,272.2 535.7,273.4 540.1,273.9 544.5,273 548.8,273.4 552.3,275.1 554.7,275.2 557.6,274 559.3,276.4 561.7,274.6 564,278.7 565.8,281.6 566.9,291.5 568.1,302 569.9,309 572.2,316.6 574.8,302.6 576.3,306.7 578,312.6 580.4,324.2 582.7,306.7 585.6,299.1 588.3,307.9 590.3,297.4 592,311.4 593.4,323.7 595,322.5 596.7,324.8 598.5,324.8 600.5,332.4 602.3,324.2 604.5,321.3 606.8,324.4 608.3,331.1 610.3,342 613.3,340.2 616.3,332.4 617.8,336.4 619.3,348.5 621.5,339.5 623.4,350 625.7,353.8 627.2,367.4 629.5,388.5 632.2,400.3 634.7,388.5 637.8,364.4 640.5,340.2 643.1,331.9 645.3,330.4 648.3,333.4 649.8,342.5 651.1,346.3 652.9,341.7 655.1,346.3 658.2,350 660.4,356.1 662.7,358.3 664.7,367.4 666.5,371.9 669.5,388.5 671.3,388.5 672.5,399.1 674.3,410.5 675.8,394.6 677,355.3 678.2,348.5" fill="none" stroke="#6d6df2" stroke-width="0.85" stroke-linejoin="round"/><rect x="366" y="254.5" width="313" height="205.5" fill="none" stroke="#858585" stroke-width="1"/><line x1="362.8" y1="263.4" x2="366" y2="263.4" stroke="#7d7d7d" stroke-width="1"/><text transform="translate(359.2,263.4) rotate(-90)" font-size="7.4" fill="#3e3e3e" text-anchor="middle">94</text><line x1="362.8" y1="283.46" x2="366" y2="283.46" stroke="#7d7d7d" stroke-width="1"/><text transform="translate(359.2,283.46) rotate(-90)" font-size="7.4" fill="#3e3e3e" text-anchor="middle">92</text><line x1="362.8" y1="303.52" x2="366" y2="303.52" stroke="#7d7d7d" stroke-width="1"/><text transform="translate(359.2,303.52) rotate(-90)" font-size="7.4" fill="#3e3e3e" text-anchor="middle">90</text><line x1="362.8" y1="323.58" x2="366" y2="323.58" stroke="#7d7d7d" stroke-width="1"/><text transform="translate(359.2,323.58) rotate(-90)" font-size="7.4" fill="#3e3e3e" text-anchor="middle">88</text><line x1="362.8" y1="343.64" x2="366" y2="343.64" stroke="#7d7d7d" stroke-width="1"/><text transform="translate(359.2,343.64) rotate(-90)" font-size="7.4" fill="#3e3e3e" text-anchor="middle">86</text><line x1="362.8" y1="363.7" x2="366" y2="363.7" stroke="#7d7d7d" stroke-width="1"/><text transform="translate(359.2,363.7) rotate(-90)" font-size="7.4" fill="#3e3e3e" text-anchor="middle">84</text><line x1="362.8" y1="383.76" x2="366" y2="383.76" stroke="#7d7d7d" stroke-width="1"/><text transform="translate(359.2,383.76) rotate(-90)" font-size="7.4" fill="#3e3e3e" text-anchor="middle">82</text><line x1="362.8" y1="403.82" x2="366" y2="403.82" stroke="#7d7d7d" stroke-width="1"/><text transform="translate(359.2,403.82) rotate(-90)" font-size="7.4" fill="#3e3e3e" text-anchor="middle">80</text><text transform="translate(350.6,332.5) rotate(-90)" font-size="6.6" fill="#3e3e3e" text-anchor="middle">Transmittance [%]</text><line x1="410.41" y1="460" x2="410.41" y2="463.3" stroke="#7d7d7d" stroke-width="1"/><text x="410.41" y="473.4" font-size="8.3" fill="#3e3e3e" text-anchor="middle" textLength="13.6" lengthAdjust="spacingAndGlyphs">3500</text><line x1="455.18" y1="460" x2="455.18" y2="463.3" stroke="#7d7d7d" stroke-width="1"/><text x="455.18" y="473.4" font-size="8.3" fill="#3e3e3e" text-anchor="middle" textLength="13.6" lengthAdjust="spacingAndGlyphs">3000</text><line x1="499.94" y1="460" x2="499.94" y2="463.3" stroke="#7d7d7d" stroke-width="1"/><text x="499.94" y="473.4" font-size="8.3" fill="#3e3e3e" text-anchor="middle" textLength="13.6" lengthAdjust="spacingAndGlyphs">2500</text><line x1="544.71" y1="460" x2="544.71" y2="463.3" stroke="#7d7d7d" stroke-width="1"/><text x="544.71" y="473.4" font-size="8.3" fill="#3e3e3e" text-anchor="middle" textLength="13.6" lengthAdjust="spacingAndGlyphs">2000</text><line x1="589.47" y1="460" x2="589.47" y2="463.3" stroke="#7d7d7d" stroke-width="1"/><text x="589.47" y="473.4" font-size="8.3" fill="#3e3e3e" text-anchor="middle" textLength="13.6" lengthAdjust="spacingAndGlyphs">1500</text><line x1="634.24" y1="460" x2="634.24" y2="463.3" stroke="#7d7d7d" stroke-width="1"/><text x="634.24" y="473.4" font-size="8.3" fill="#3e3e3e" text-anchor="middle" textLength="13.6" lengthAdjust="spacingAndGlyphs">1000</text><line x1="679" y1="460" x2="679" y2="463.3" stroke="#7d7d7d" stroke-width="1"/><text x="679" y="473.4" font-size="8.3" fill="#3e3e3e" text-anchor="middle" textLength="10.2" lengthAdjust="spacingAndGlyphs">500</text><text x="522.5" y="482.9" font-size="7.4" fill="#3e3e3e" text-anchor="middle" textLength="50.5" lengthAdjust="spacingAndGlyphs">Wavenumber cm-1</text><g fill="none" stroke="#2b8cf0" stroke-width="1.2"><ellipse cx="384.5" cy="265.45" rx="14.9" ry="5.0" transform="rotate(37 384.5 265.45)"/><ellipse cx="384.5" cy="265.45" rx="14.9" ry="5.0" transform="rotate(-37 384.5 265.45)"/></g><circle cx="378.3" cy="256.15" r="1.55" fill="#2b8cf0"/><circle cx="378.3" cy="275.05" r="1.55" fill="#2b8cf0"/><text x="366.3" y="267.7" font-size="6.5" font-weight="bold" fill="#000" stroke="#000" stroke-width="0.4" textLength="35.8" lengthAdjust="spacingAndGlyphs">BRUKER</text><text class="serif" x="343.7" y="253.5" font-size="16" fill="#111" textLength="20.6" lengthAdjust="spacingAndGlyphs">(D)</text><text class="serif" x="472.3" y="394.8" font-size="15.8" fill="#111" textLength="115.4" lengthAdjust="spacingAndGlyphs">Methanol extract</text></g>
<g><clipPath id="cp4"><rect x="23" y="495.9" width="312.5" height="207.6"/></clipPath><line x1="32.57" y1="665" x2="32.57" y2="680.4" stroke="#c0c0fc" stroke-width="0.75"/><text transform="translate(35.17,701.2) rotate(-90)" font-size="5.1" fill="#4848f0" stroke="#4848f0" stroke-width="0.12">3889.15</text><line x1="86.74" y1="665" x2="86.74" y2="680.4" stroke="#c0c0fc" stroke-width="0.75"/><text transform="translate(89.34,701.2) rotate(-90)" font-size="5.1" fill="#4848f0" stroke="#4848f0" stroke-width="0.12">3283.75</text><line x1="118.39" y1="665" x2="118.39" y2="680.4" stroke="#c0c0fc" stroke-width="0.75"/><text transform="translate(120.99,701.2) rotate(-90)" font-size="5.1" fill="#4848f0" stroke="#4848f0" stroke-width="0.12">2929.99</text><line x1="241.03" y1="665" x2="241.03" y2="680.4" stroke="#c0c0fc" stroke-width="0.75"/><text transform="translate(243.63,701.2) rotate(-90)" font-size="5.1" fill="#4848f0" stroke="#4848f0" stroke-width="0.12">1559.22</text><line x1="255.96" y1="665" x2="255.96" y2="680.4" stroke="#c0c0fc" stroke-width="0.75"/><text transform="translate(258.56,701.2) rotate(-90)" font-size="5.1" fill="#4848f0" stroke="#4848f0" stroke-width="0.12">1392.38</text><line x1="268.13" y1="665" x2="268.13" y2="680.4" stroke="#c0c0fc" stroke-width="0.75"/><text transform="translate(270.73,701.2) rotate(-90)" font-size="5.1" fill="#4848f0" stroke="#4848f0" stroke-width="0.12">1256.33</text><line x1="277" y1="665" x2="277" y2="680.4" stroke="#c0c0fc" stroke-width="0.75"/><text transform="translate(279.6,701.2) rotate(-90)" font-size="5.1" fill="#4848f0" stroke="#4848f0" stroke-width="0.12">1157.19</text><line x1="286.83" y1="665" x2="286.83" y2="680.4" stroke="#c0c0fc" stroke-width="0.75"/><text transform="translate(289.43,701.2) rotate(-90)" font-size="5.1" fill="#4848f0" stroke="#4848f0" stroke-width="0.12">1047.36</text><polyline clip-path="url(#cp4)" points="23.4,495.8 29.2,496.4 33.6,499 39.4,496.8 45.3,497.5 51.8,496.8 54.7,503.4 56.9,509.2 59.9,518 64.2,529.6 68.6,541.3 73,553 76.6,561.8 80.3,567.6 86.1,570.2 90.5,569.1 95,564.5 99.1,556.3 104.2,546.1 108.3,540 111.4,537.9 113.8,543 116.1,544 118.5,547.7 120.5,538.9 123.6,535.9 125.7,532.8 127.3,526.7 129.7,522.6 133.8,519.9 137.9,518.5 146.1,514.4 156.3,510.3 168.6,506.6 176.7,506.2 187,506.9 197.2,506.6 205.4,506.2 213.5,506.9 217.6,507.7 220.7,511.4 223.3,517.5 225.8,531.8 227.7,542.5 230.4,547 232.1,549.6 234.8,565.7 237.5,581.8 241.1,592.5 243.8,572 245.5,563.9 247.7,550.5 250,565.7 252.1,572.9 254.5,588.9 256.3,595.2 258.9,583.6 260.7,577.3 263.4,575.5 265.7,585.4 267.9,592.1 270.5,587.1 273.2,578.2 275.4,576.4 277.1,579.1 278.6,577.9 280.4,593.4 282.1,595.2 284.3,608.6 286.6,617.1 289.3,612.1 292,594.3 294.6,572.9 297.3,566.6 299.6,562.1 301.8,568.4 304.5,572 307.1,583.6 310.7,592.5 314.3,601.4 317.9,610.4 321.4,620.2 325,629.1 328.2,636.8 330.4,640.4 333,644.3 334.3,653.2" fill="none" stroke="#6d6df2" stroke-width="0.85" stroke-linejoin="round"/><rect x="23" y="495.9" width="312.5" height="207.6" fill="none" stroke="#858585" stroke-width="1"/><line x1="19.8" y1="511.2" x2="23" y2="511.2" stroke="#7d7d7d" stroke-width="1"/><text transform="translate(16.9,511.2) rotate(-90)" font-size="7.4" fill="#3e3e3e" text-anchor="middle">90</text><line x1="19.8" y1="533.9" x2="23" y2="533.9" stroke="#7d7d7d" stroke-width="1"/><text transform="translate(16.9,533.9) rotate(-90)" font-size="7.4" fill="#3e3e3e" text-anchor="middle">80</text><line x1="19.8" y1="556.6" x2="23" y2="556.6" stroke="#7d7d7d" stroke-width="1"/><text transform="translate(16.9,556.6) rotate(-90)" font-size="7.4" fill="#3e3e3e" text-anchor="middle">70</text><line x1="19.8" y1="579.3" x2="23" y2="579.3" stroke="#7d7d7d" stroke-width="1"/><text transform="translate(16.9,579.3) rotate(-90)" font-size="7.4" fill="#3e3e3e" text-anchor="middle">60</text><line x1="19.8" y1="602" x2="23" y2="602" stroke="#7d7d7d" stroke-width="1"/><text transform="translate(16.9,602) rotate(-90)" font-size="7.4" fill="#3e3e3e" text-anchor="middle">50</text><line x1="19.8" y1="624.7" x2="23" y2="624.7" stroke="#7d7d7d" stroke-width="1"/><text transform="translate(16.9,624.7) rotate(-90)" font-size="7.4" fill="#3e3e3e" text-anchor="middle">40</text><line x1="19.8" y1="647.4" x2="23" y2="647.4" stroke="#7d7d7d" stroke-width="1"/><text transform="translate(16.9,647.4) rotate(-90)" font-size="7.4" fill="#3e3e3e" text-anchor="middle">30</text><text transform="translate(7.2,574.7) rotate(-90)" font-size="6.6" fill="#3e3e3e" text-anchor="middle">Transmittance [%]</text><line x1="67.39" y1="703.5" x2="67.39" y2="706.8" stroke="#7d7d7d" stroke-width="1"/><text x="67.39" y="716.9" font-size="8.3" fill="#3e3e3e" text-anchor="middle" textLength="13.6" lengthAdjust="spacingAndGlyphs">3500</text><line x1="112.13" y1="703.5" x2="112.13" y2="706.8" stroke="#7d7d7d" stroke-width="1"/><text x="112.13" y="716.9" font-size="8.3" fill="#3e3e3e" text-anchor="middle" textLength="13.6" lengthAdjust="spacingAndGlyphs">3000</text><line x1="156.86" y1="703.5" x2="156.86" y2="706.8" stroke="#7d7d7d" stroke-width="1"/><text x="156.86" y="716.9" font-size="8.3" fill="#3e3e3e" text-anchor="middle" textLength="13.6" lengthAdjust="spacingAndGlyphs">2500</text><line x1="201.6" y1="703.5" x2="201.6" y2="706.8" stroke="#7d7d7d" stroke-width="1"/><text x="201.6" y="716.9" font-size="8.3" fill="#3e3e3e" text-anchor="middle" textLength="13.6" lengthAdjust="spacingAndGlyphs">2000</text><line x1="246.33" y1="703.5" x2="246.33" y2="706.8" stroke="#7d7d7d" stroke-width="1"/><text x="246.33" y="716.9" font-size="8.3" fill="#3e3e3e" text-anchor="middle" textLength="13.6" lengthAdjust="spacingAndGlyphs">1500</text><line x1="291.06" y1="703.5" x2="291.06" y2="706.8" stroke="#7d7d7d" stroke-width="1"/><text x="291.06" y="716.9" font-size="8.3" fill="#3e3e3e" text-anchor="middle" textLength="13.6" lengthAdjust="spacingAndGlyphs">1000</text><line x1="335.8" y1="703.5" x2="335.8" y2="706.8" stroke="#7d7d7d" stroke-width="1"/><text x="335.8" y="716.9" font-size="8.3" fill="#3e3e3e" text-anchor="middle" textLength="10.2" lengthAdjust="spacingAndGlyphs">500</text><text x="179.25" y="726.4" font-size="7.4" fill="#3e3e3e" text-anchor="middle" textLength="50.5" lengthAdjust="spacingAndGlyphs">Wavenumber cm-1</text><g fill="none" stroke="#2b8cf0" stroke-width="1.2"><ellipse cx="41.5" cy="506.85" rx="14.9" ry="5.0" transform="rotate(37 41.5 506.85)"/><ellipse cx="41.5" cy="506.85" rx="14.9" ry="5.0" transform="rotate(-37 41.5 506.85)"/></g><circle cx="35.3" cy="497.55" r="1.55" fill="#2b8cf0"/><circle cx="35.3" cy="516.45" r="1.55" fill="#2b8cf0"/><text x="23.3" y="509.1" font-size="6.5" font-weight="bold" fill="#000" stroke="#000" stroke-width="0.4" textLength="35.8" lengthAdjust="spacingAndGlyphs">BRUKER</text><text class="serif" x="0.9" y="502.4" font-size="16" fill="#111" textLength="19.7" lengthAdjust="spacingAndGlyphs">(E)</text><text class="serif" x="139.1" y="643.1" font-size="15.8" fill="#111" textLength="110.1" lengthAdjust="spacingAndGlyphs">Aqueous extract</text></g>
<g><clipPath id="cp5"><rect x="369" y="497" width="308.5" height="205.5"/></clipPath><line x1="380.38" y1="664.2" x2="380.38" y2="680" stroke="#6a6ad0" stroke-width="0.75"/><text transform="translate(382.98,700.5) rotate(-90)" font-size="5.1" fill="#2424dc" stroke="#2424dc" stroke-width="0.14">3864.88</text><line x1="387.89" y1="664.2" x2="387.89" y2="680" stroke="#e4e4f4" stroke-width="0.75"/><text transform="translate(390.49,700.5) rotate(-90)" font-size="5.1" fill="#2424dc" stroke="#2424dc" stroke-width="0.14">3779.81</text><line x1="427.58" y1="664.2" x2="427.58" y2="680" stroke="#6a6ad0" stroke-width="0.75"/><text transform="translate(430.18,700.5) rotate(-90)" font-size="5.1" fill="#2424dc" stroke="#2424dc" stroke-width="0.14">3330.40</text><line x1="461.69" y1="664.2" x2="461.69" y2="680" stroke="#e8e8f4" stroke-width="0.75"/><text transform="translate(464.29,700.5) rotate(-90)" font-size="5.1" fill="#2424dc" stroke="#2424dc" stroke-width="0.14">2944.03</text><line x1="471.55" y1="664.2" x2="471.55" y2="680" stroke="#c8c8ec" stroke-width="0.75"/><text transform="translate(474.15,700.5) rotate(-90)" font-size="5.1" fill="#2424dc" stroke="#2424dc" stroke-width="0.14">2832.41</text><line x1="496.73" y1="664.2" x2="496.73" y2="680" stroke="#a0a0dc" stroke-width="0.75"/><text transform="translate(499.33,700.5) rotate(-90)" font-size="5.1" fill="#2424dc" stroke="#2424dc" stroke-width="0.14">2547.26</text><line x1="540.84" y1="664.2" x2="540.84" y2="680" stroke="#f4f0dc" stroke-width="0.75"/><text transform="translate(543.44,700.5) rotate(-90)" font-size="5.1" fill="#2424dc" stroke="#2424dc" stroke-width="0.14">2047.72</text><line x1="577" y1="664.2" x2="577" y2="680" stroke="#d0d0ec" stroke-width="0.75"/><text transform="translate(579.6,700.5) rotate(-90)" font-size="5.1" fill="#2424dc" stroke="#2424dc" stroke-width="0.14">1638.11</text><line x1="593.43" y1="664.2" x2="593.43" y2="680" stroke="#6a6ad0" stroke-width="0.75"/><text transform="translate(596.03,700.5) rotate(-90)" font-size="5.1" fill="#2424dc" stroke="#2424dc" stroke-width="0.14">1452.10</text><line x1="622.77" y1="664.2" x2="622.77" y2="680" stroke="#6a6ad0" stroke-width="0.75"/><text transform="translate(625.37,700.5) rotate(-90)" font-size="5.1" fill="#2424dc" stroke="#2424dc" stroke-width="0.14">1119.78</text><line x1="631.55" y1="664.2" x2="631.55" y2="680" stroke="#6a6ad0" stroke-width="0.75"/><text transform="translate(634.15,700.5) rotate(-90)" font-size="5.1" fill="#2424dc" stroke="#2424dc" stroke-width="0.14">1020.37</text><line x1="669.41" y1="664.2" x2="668.17" y2="680" stroke="#9090d8" stroke-width="0.75"/><text transform="translate(670.77,700.5) rotate(-90)" font-size="5.1" fill="#2424dc" stroke="#2424dc" stroke-width="0.14">591.62</text><line x1="673.38" y1="664.2" x2="672.77" y2="680" stroke="#9090d8" stroke-width="0.75"/><text transform="translate(675.37,700.5) rotate(-90)" font-size="5.1" fill="#2424dc" stroke="#2424dc" stroke-width="0.14">546.62</text><line x1="675.53" y1="664.2" x2="677.37" y2="680" stroke="#9090d8" stroke-width="0.75"/><text transform="translate(679.97,700.5) rotate(-90)" font-size="5.1" fill="#2424dc" stroke="#2424dc" stroke-width="0.14">522.35</text><polyline clip-path="url(#cp5)" points="369.7,499 375,499.5 380,500.4 390,500 398,502 403.3,509.2 406.2,515 409.9,523.8 413.5,535.5 417.9,548.6 422.3,561.8 425,566.5 428.1,569.1 431,567.5 434,563.2 438.5,549.5 443.8,532 448.1,522.4 452.5,517.1 455.7,520.6 458.6,532 461.6,545.2 464.4,532 466.5,524.2 468.6,521.5 470,525 471.8,539.9 473.2,525 474.4,516.3 477,506.6 479.7,500.5 482.3,498.4 487.5,498.4 492.8,499.6 498,500.9 503.3,498.4 510.3,497.4 519.1,497.9 529.6,498.4 536.6,498.4 541,500.5 547.1,497.9 557.9,498.3 563.8,500.8 569.7,505.4 574.6,509.7 577.6,509.7 581.1,507.7 584.5,509.7 587.4,514.6 590.4,523.5 593,535.7 595.7,534.3 598.3,529.4 600.8,519.6 604.2,513.7 611.1,511.3 616,513.3 620,517.6 621.9,523.5 623.3,532.4 624.9,528.4 626.5,526.5 627.8,529.4 628.8,541.2 629.5,568.8 630.5,620 631.3,653.5 632.5,620 633.5,568.8 634.7,529.4 636.7,519.6 640.3,514.6 643.6,517.6 647.6,527.4 651.9,540 657.7,555.4 661.5,568.8 666.3,578.5 669.2,582.3 672.1,577.5 675,572.7 676.5,549.6 676.9,535" fill="none" stroke="#7a7ab8" stroke-width="0.8" stroke-dasharray="1.2 0.7" stroke-linejoin="round"/><rect x="369" y="497" width="308.5" height="205.5" fill="none" stroke="#858585" stroke-width="1"/><line x1="365.8" y1="517.6" x2="369" y2="517.6" stroke="#7d7d7d" stroke-width="1"/><text transform="translate(362.6,517.6) rotate(-90)" font-size="7.4" fill="#333" text-anchor="middle">100</text><line x1="365.8" y1="551.65" x2="369" y2="551.65" stroke="#7d7d7d" stroke-width="1"/><text transform="translate(362.6,551.65) rotate(-90)" font-size="7.4" fill="#333" text-anchor="middle">80</text><line x1="365.8" y1="585.7" x2="369" y2="585.7" stroke="#7d7d7d" stroke-width="1"/><text transform="translate(362.6,585.7) rotate(-90)" font-size="7.4" fill="#333" text-anchor="middle">60</text><line x1="365.8" y1="619.75" x2="369" y2="619.75" stroke="#7d7d7d" stroke-width="1"/><text transform="translate(362.6,619.75) rotate(-90)" font-size="7.4" fill="#333" text-anchor="middle">40</text><line x1="365.8" y1="653.8" x2="369" y2="653.8" stroke="#7d7d7d" stroke-width="1"/><text transform="translate(362.6,653.8) rotate(-90)" font-size="7.4" fill="#333" text-anchor="middle">20</text><text transform="translate(353.9,574.8) rotate(-90)" font-size="6.6" fill="#333" text-anchor="middle">Transmittance [%]</text><line x1="412.6" y1="702.5" x2="412.6" y2="705.8" stroke="#7d7d7d" stroke-width="1"/><text x="412.6" y="715.9" font-size="8.3" fill="#333" text-anchor="middle" textLength="13.6" lengthAdjust="spacingAndGlyphs">3500</text><line x1="456.75" y1="702.5" x2="456.75" y2="705.8" stroke="#7d7d7d" stroke-width="1"/><text x="456.75" y="715.9" font-size="8.3" fill="#333" text-anchor="middle" textLength="13.6" lengthAdjust="spacingAndGlyphs">3000</text><line x1="500.9" y1="702.5" x2="500.9" y2="705.8" stroke="#7d7d7d" stroke-width="1"/><text x="500.9" y="715.9" font-size="8.3" fill="#333" text-anchor="middle" textLength="13.6" lengthAdjust="spacingAndGlyphs">2500</text><line x1="545.05" y1="702.5" x2="545.05" y2="705.8" stroke="#7d7d7d" stroke-width="1"/><text x="545.05" y="715.9" font-size="8.3" fill="#333" text-anchor="middle" textLength="13.6" lengthAdjust="spacingAndGlyphs">2000</text><line x1="589.2" y1="702.5" x2="589.2" y2="705.8" stroke="#7d7d7d" stroke-width="1"/><text x="589.2" y="715.9" font-size="8.3" fill="#333" text-anchor="middle" textLength="13.6" lengthAdjust="spacingAndGlyphs">1500</text><line x1="633.35" y1="702.5" x2="633.35" y2="705.8" stroke="#7d7d7d" stroke-width="1"/><text x="633.35" y="715.9" font-size="8.3" fill="#333" text-anchor="middle" textLength="13.6" lengthAdjust="spacingAndGlyphs">1000</text><line x1="677.5" y1="702.5" x2="677.5" y2="705.8" stroke="#7d7d7d" stroke-width="1"/><text x="677.5" y="715.9" font-size="8.3" fill="#333" text-anchor="middle" textLength="10.2" lengthAdjust="spacingAndGlyphs">500</text><text x="523.25" y="725.4" font-size="7.4" fill="#333" text-anchor="middle" textLength="50.5" lengthAdjust="spacingAndGlyphs">Wavenumber cm-1</text><g fill="none" stroke="#2b8cf0" stroke-width="1.2"><ellipse cx="387.5" cy="507.95" rx="14.9" ry="5.0" transform="rotate(37 387.5 507.95)"/><ellipse cx="387.5" cy="507.95" rx="14.9" ry="5.0" transform="rotate(-37 387.5 507.95)"/></g><circle cx="381.3" cy="498.65" r="1.55" fill="#2b8cf0"/><circle cx="381.3" cy="517.55" r="1.55" fill="#2b8cf0"/><text x="369.3" y="510.2" font-size="6.5" font-weight="bold" fill="#000" stroke="#000" stroke-width="0.4" textLength="35.8" lengthAdjust="spacingAndGlyphs">BRUKER</text><text class="serif" x="344.2" y="502.5" font-size="16" fill="#111" textLength="19.7" lengthAdjust="spacingAndGlyphs">(F)</text><text class="serif" x="463.3" y="640.1" font-size="15.8" fill="#111" textLength="130.7" lengthAdjust="spacingAndGlyphs">80% MeOH extract</text></g>
</svg></body></html>
